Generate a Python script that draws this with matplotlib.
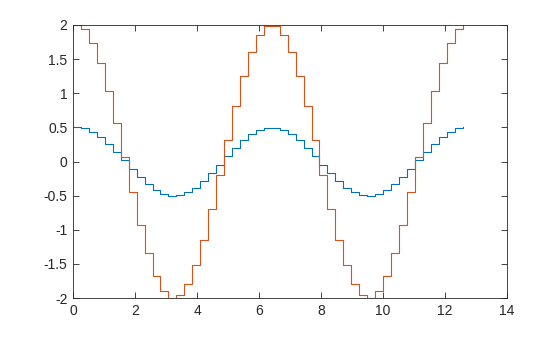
import matplotlib
matplotlib.use("Agg")
import matplotlib.pyplot as plt

# sample positions (0 .. 4*pi, 50 points)
x = [0.000, 0.256, 0.513, 0.769, 1.026, 1.282, 1.539, 1.795, 2.052, 2.308,
     2.565, 2.821, 3.078, 3.334, 3.590, 3.847, 4.103, 4.360, 4.616, 4.873,
     5.129, 5.386, 5.642, 5.899, 6.155, 6.411, 6.668, 6.924, 7.181, 7.437,
     7.694, 7.950, 8.207, 8.463, 8.720, 8.976, 9.232, 9.489, 9.745, 10.002,
     10.258, 10.515, 10.771, 11.028, 11.284, 11.541, 11.797, 12.053, 12.310, 12.566]

# small wave (blue)
small = [0.500, 0.484, 0.436, 0.359, 0.259, 0.142, 0.016, -0.111, -0.231, -0.336,
         -0.419, -0.475, -0.499, -0.491, -0.451, -0.381, -0.286, -0.173, -0.048, 0.080,
         0.202, 0.312, 0.401, 0.463, 0.496, 0.496, 0.463, 0.401, 0.312, 0.202,
         0.080, -0.048, -0.173, -0.286, -0.381, -0.451, -0.491, -0.499, -0.475, -0.419,
         -0.336, -0.231, -0.111, 0.016, 0.142, 0.259, 0.359, 0.436, 0.484, 0.500]

# big wave (orange)
big = [2.000, 1.935, 1.743, 1.437, 1.037, 0.569, 0.064, -0.445, -0.925, -1.345,
       -1.676, -1.898, -1.996, -1.963, -1.802, -1.523, -1.144, -0.691, -0.192, 0.319,
       0.810, 1.247, 1.603, 1.854, 1.984, 1.984, 1.854, 1.603, 1.247, 0.810,
       0.319, -0.192, -0.691, -1.144, -1.523, -1.802, -1.963, -1.996, -1.898, -1.676,
       -1.345, -0.925, -0.445, 0.064, 0.569, 1.037, 1.437, 1.743, 1.935, 2.000]

plt.rcParams['font.family'] = ['Liberation Sans', 'DejaVu Sans']

fig = plt.figure(figsize=(5.6, 3.37), dpi=100)
ax = fig.add_axes([73 / 560, 39 / 337, 434 / 560, 273 / 337])

ax.step(x, small, where='post', color='#0072BD', lw=0.8)
ax.step(x, big, where='post', color='#D95319', lw=0.8)

ax.set_xlim(0, 14)
ax.set_ylim(-2, 2)
ax.set_xticks(range(0, 15, 2))
ax.set_yticks([-2, -1.5, -1, -0.5, 0, 0.5, 1, 1.5, 2])
ax.set_yticklabels(['-2', '-1.5', '-1', '-0.5', '0', '0.5', '1', '1.5', '2'])

ax.tick_params(direction='in', length=4, width=0.6, colors='#262626',
               labelsize=10, top=True, right=True, pad=4)
for s in ax.spines.values():
    s.set_linewidth(0.6)
    s.set_color('#262626')

fig.savefig('out.png', dpi=100)
